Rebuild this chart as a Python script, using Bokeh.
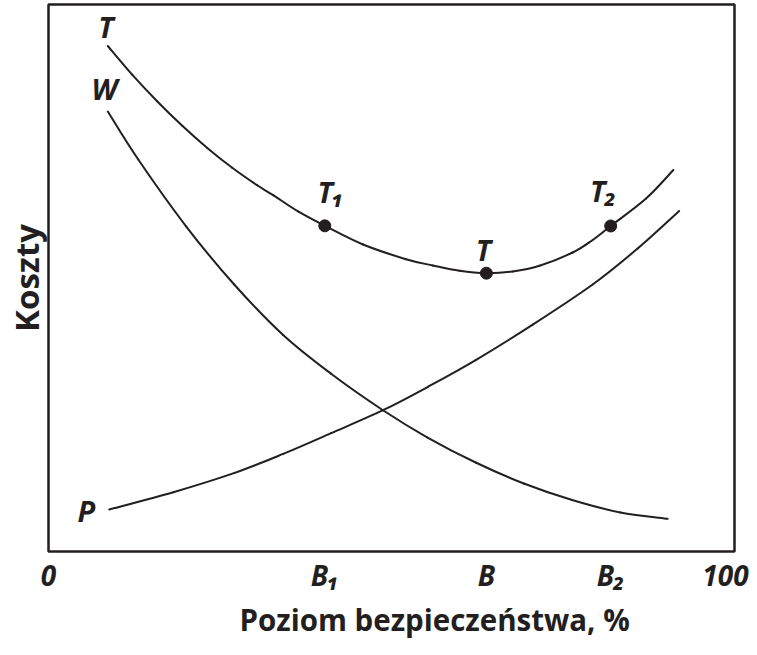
from bokeh.plotting import figure
from bokeh.models import FixedTicker, Range1d, Title
from bokeh.core.properties import value
from bokeh.embed import file_html
from bokeh.resources import INLINE

INK = "#231f20"

# Curve T (total cost) - x: safety level %, y: cost (relative units)
t_x = [8.76, 12.39, 16.08, 19.76, 23.45, 27.14, 30.83, 33.19, 36.87, 40.81,
       46.46, 52.80, 56.78, 60.72, 64.68, 68.58, 72.52, 77.43, 80.38, 83.04,
       88.27, 92.30]
t_y = [92.41, 87.13, 82.27, 77.83, 73.78, 70.15, 66.95, 65.14, 62.16, 59.54,
       56.12, 53.44, 52.29, 51.32, 50.88, 51.19, 52.23, 54.66, 56.95, 59.51,
       64.53, 69.74]

# Curve W
w_x = [8.76, 13.26, 20.35, 27.43, 34.66, 41.74, 49.41, 55.99, 63.10, 70.21,
       77.35, 84.47, 91.45]
w_y = [80.44, 71.66, 59.41, 48.81, 39.58, 32.50, 25.83, 20.84, 16.27, 12.43,
       9.41, 7.13, 5.98]

# Curve P
p_x = [8.98, 18.44, 27.49, 34.66, 41.74, 49.41, 56.05, 63.10, 71.53, 80.38,
       87.02, 93.16]
p_y = [7.68, 10.84, 14.37, 17.84, 21.63, 25.83, 30.11, 34.99, 41.48, 48.81,
       55.39, 62.25]

# Marked points T1, T, T2
pt_x = [40.81, 64.68, 83.04]
pt_y = [59.54, 50.88, 59.51]

# Text labels on the chart
lab_text = ["T", "W", "P", "T\u2081", "T", "T\u2082"]
lab_x = [8.48, 8.26, 5.60, 41.67, 64.23, 81.93]
lab_y = [95.96, 84.73, 7.55, 65.90, 55.24, 66.05]

# X ticks
tick_vals = [0, 40.81, 64.68, 83.04, 100]
tick_text = ["0", "B\u2081", "B", "B\u2082", "100"]

x_title = "Poziom bezpiecze\u0144stwa, %"
y_title = "Koszty"

p = figure(width=749, height=639, x_range=Range1d(0, 101.33), y_range=Range1d(0, 100),
           output_backend="svg", toolbar_location=None,
           min_border_left=47, min_border_right=15, min_border_top=4, min_border_bottom=88)
p.grid.visible = False
p.outline_line_color = INK
p.outline_line_width = 2.5
p.outline_line_alpha = 1.0

FONT = value("Open Sans")

p.yaxis.ticker = FixedTicker(ticks=[])
p.yaxis.axis_line_color = None
p.yaxis.major_tick_line_color = None
p.yaxis.minor_tick_line_color = None
p.yaxis.major_label_text_font_size = "0px"
p.yaxis.axis_label = y_title
p.yaxis.axis_label_text_font = "Open Sans"
p.yaxis.axis_label_text_font_style = "bold"
p.yaxis.axis_label_text_font_size = "33px"
p.yaxis.axis_label_text_color = INK
p.yaxis.axis_label_standoff = 0

p.xaxis.ticker = FixedTicker(ticks=tick_vals)
p.xaxis.major_label_overrides = {v: s for v, s in zip(tick_vals, tick_text)}
p.xaxis.axis_line_color = None
p.xaxis.major_tick_line_color = None
p.xaxis.minor_tick_line_color = None
p.xaxis.major_tick_in = 0
p.xaxis.major_tick_out = 0
p.xaxis.major_label_standoff = 4
p.xaxis.major_label_text_font = "Open Sans"
p.xaxis.major_label_text_font_style = "bold italic"
p.xaxis.major_label_text_font_size = "28px"
p.xaxis.major_label_text_color = INK

title = Title(text=x_title, align="left", offset=191, text_font="Open Sans",
              text_font_style="bold", text_font_size="29.5px", text_color=INK, standoff=0)
p.add_layout(title, "below")


def smooth_segments(xs, ys):
    """Cubic Bezier segments through the read points (Catmull-Rom handles)."""
    n = len(xs)
    seg = {k: [] for k in ("x0", "y0", "x1", "y1", "cx0", "cy0", "cx1", "cy1")}
    for i in range(n - 1):
        a = max(i - 1, 0)
        b = min(i + 2, n - 1)
        seg["x0"].append(xs[i]); seg["y0"].append(ys[i])
        seg["x1"].append(xs[i + 1]); seg["y1"].append(ys[i + 1])
        seg["cx0"].append(xs[i] + (xs[i + 1] - xs[a]) / 6.0)
        seg["cy0"].append(ys[i] + (ys[i + 1] - ys[a]) / 6.0)
        seg["cx1"].append(xs[i + 1] - (xs[b] - xs[i]) / 6.0)
        seg["cy1"].append(ys[i + 1] - (ys[b] - ys[i]) / 6.0)
    return seg


for xs, ys in ((t_x, t_y), (w_x, w_y), (p_x, p_y)):
    s = smooth_segments(xs, ys)
    p.bezier(x0=s["x0"], y0=s["y0"], x1=s["x1"], y1=s["y1"],
             cx0=s["cx0"], cy0=s["cy0"], cx1=s["cx1"], cy1=s["cy1"],
             line_width=2, line_color=INK, line_cap="round")

p.scatter(pt_x, pt_y, size=12, fill_color=INK, line_color=INK)

p.text(x=lab_x, y=lab_y, text=lab_text, text_font=FONT, text_font_style="bold italic",
       text_font_size="29px", text_color=INK, text_align="center", text_baseline="alphabetic")

open("out.html", "w").write(file_html(p, INLINE))
